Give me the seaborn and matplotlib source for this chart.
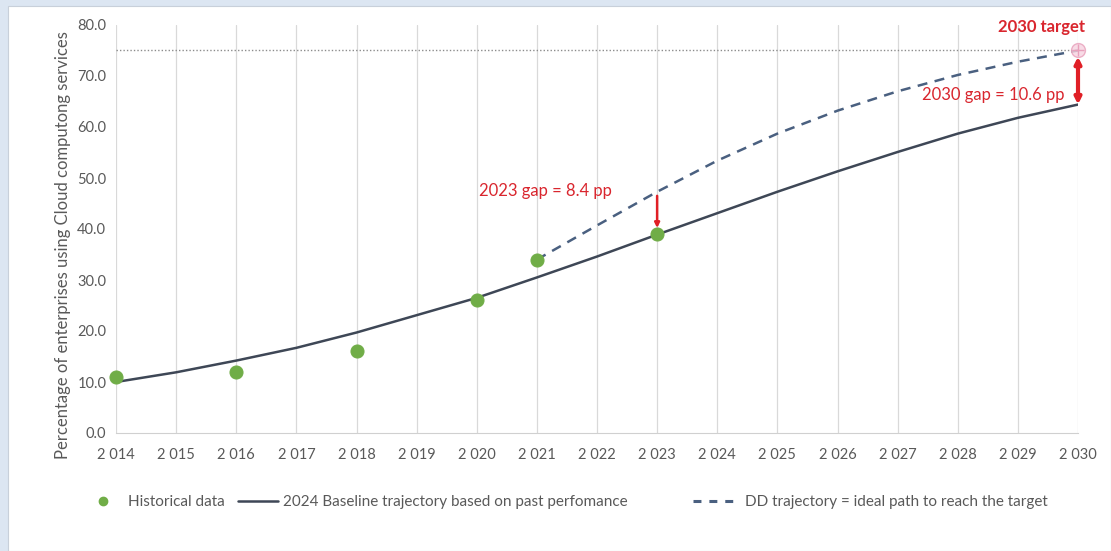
import numpy as np
import pandas as pd
import seaborn as sns
import matplotlib.pyplot as plt
from matplotlib.lines import Line2D
from matplotlib.patches import Rectangle

# historical observations
hist_years = [2014, 2016, 2018, 2020, 2021, 2023]
hist_values = [11.0, 12.0, 16.0, 26.0, 34.0, 39.0]

# 2024 baseline trajectory
base_years = list(range(2014, 2031))
base_values = [10.0, 11.9, 14.2, 16.7, 19.7, 23.1, 26.5, 30.5, 34.6, 38.9,
               43.1, 47.3, 51.3, 55.1, 58.7, 61.8, 64.4]

# DD trajectory towards target
dd_years = list(range(2021, 2031))
dd_values = [34.0, 40.7, 47.3, 53.4, 58.7, 63.2, 67.0, 70.2, 72.8, 75.0]

target_year = 2030
target_value = 75.0
x_ticks = list(range(2014, 2031))
x_labels = [f"{y // 1000} {y % 1000:03d}" for y in x_ticks]
y_ticks = list(range(0, 81, 10))

hist = pd.DataFrame({"year": hist_years, "value": hist_values})
base = pd.DataFrame({"year": base_years, "value": base_values})
dd = pd.DataFrame({"year": dd_years, "value": dd_values})

sns.set_style("white")
plt.rcParams["font.family"] = ["Lato", "DejaVu Sans"]

fig = plt.figure(figsize=(11.11, 5.51), dpi=100)
fig.patch.set_facecolor("#dce6f2")
fig.patches.append(Rectangle((8 / 1111, 0), 1 - 8 / 1111, 1 - 6 / 551,
                             transform=fig.transFigure, facecolor="white",
                             edgecolor="#c8d0da", lw=0.8, zorder=-5))

ax = fig.add_axes([116 / 1111, 1 - 433 / 551, (1078 - 116) / 1111, (433 - 25) / 551])
ax.set_facecolor("none")

grey = "#595959"
green = "#70ad47"
solid_c = "#3e4756"
dash_c = "#4a6080"
red = "#e01f26"

for x in x_ticks:
    ax.axvline(x, color="#d9d9d9", lw=0.9, zorder=0)

ax.plot([2014, 2030], [target_value, target_value], color="#8c8c8c", lw=1.0,
        ls=(0, (1, 1.5)), zorder=1)

sns.lineplot(data=base, x="year", y="value", ax=ax, color=solid_c, lw=1.8, zorder=3)
sns.lineplot(data=dd, x="year", y="value", ax=ax, color=dash_c, lw=1.8,
             dashes=False, zorder=3)
ax.lines[-1].set_linestyle((0, (4, 3)))
sns.scatterplot(data=hist, x="year", y="value", ax=ax, color=green, s=88,
                edgecolor=green, zorder=4, clip_on=False)

ax.plot([target_year], [target_value], marker="o", ms=10, mfc="#f7d3e0",
        mec="#e8a0bb", alpha=0.8, clip_on=False, zorder=5)
ax.plot([target_year], [target_value], marker="+", ms=8, mew=1.0, color="#e8a0bb",
        clip_on=False, zorder=6)

# gap arrows
ax.annotate("", xy=(2030, base_values[-1]), xytext=(2030, target_value - 1.2),
            arrowprops=dict(arrowstyle="<|-|>", color=red, lw=3, mutation_scale=9,
                            shrinkA=0, shrinkB=0), zorder=6)
ax.annotate("", xy=(2023, hist_values[-1] + 1.2), xytext=(2023, 46.5),
            arrowprops=dict(arrowstyle="-|>", color=red, lw=1.8, mutation_scale=7,
                            shrinkA=0, shrinkB=0), zorder=6)

ax.text(2029.78, 66.3, "2030 gap = 10.6 pp", color="#d9262e", fontsize=12,
        ha="right", va="center")
ax.text(2021.15, 47.4, "2023 gap = 8.4 pp", color="#d9262e", fontsize=12,
        ha="center", va="center")
ax.text(2029.4, 79.6, "2030 target", color="#d9262e", fontsize=12,
        fontweight="bold", ha="center", va="center", clip_on=False)

ax.set_xlim(2014, 2030)
ax.set_ylim(0, 80)
ax.set_xticks(x_ticks)
ax.set_xticklabels(x_labels)
ax.set_yticks(y_ticks)
ax.set_yticklabels([f"{v:.1f}" for v in y_ticks])
ax.tick_params(axis="both", colors=grey, labelsize=10.5, length=0, pad=7)
ax.tick_params(axis="x", pad=11)
ax.set_xlabel("")
ax.set_ylabel("Percentage of enterprises using Cloud computong services",
              color=grey, fontsize=12)
ax.yaxis.set_label_coords(-0.047, 0.46)
for side in ["top", "right", "left"]:
    ax.spines[side].set_visible(False)
ax.spines["bottom"].set_color("#d0d0d0")

# legend, one entry per box so each sits where the reference has it
legend_fs = 11
em = legend_fs * 100 / 72
entries = [
    (Line2D([], [], ls="none", marker="o", ms=6, color=green),
     "Historical data", 95.5, 1.0, 128),
    (Line2D([], [], color=solid_c, lw=1.8),
     "2024 Baseline trajectory based on past perfomance", 238, 40 / em, 283),
    (Line2D([], [], color=dash_c, lw=2.2, ls=(0, (2.6, 2.6))),
     "DD trajectory = ideal path to reach the target", 693, 40 / em, 745),
]
for handle, label, x0, hl, tx in entries:
    pad = (tx - x0 - hl * em) / em
    leg = fig.legend([handle], [label], loc="center left",
                     bbox_to_anchor=(x0 / 1111, 1 - 502 / 551), frameon=False,
                     fontsize=legend_fs, labelcolor=grey, handlelength=hl,
                     handletextpad=pad, borderpad=0, borderaxespad=0)

fig.savefig("out.png", dpi=100, facecolor=fig.get_facecolor())
